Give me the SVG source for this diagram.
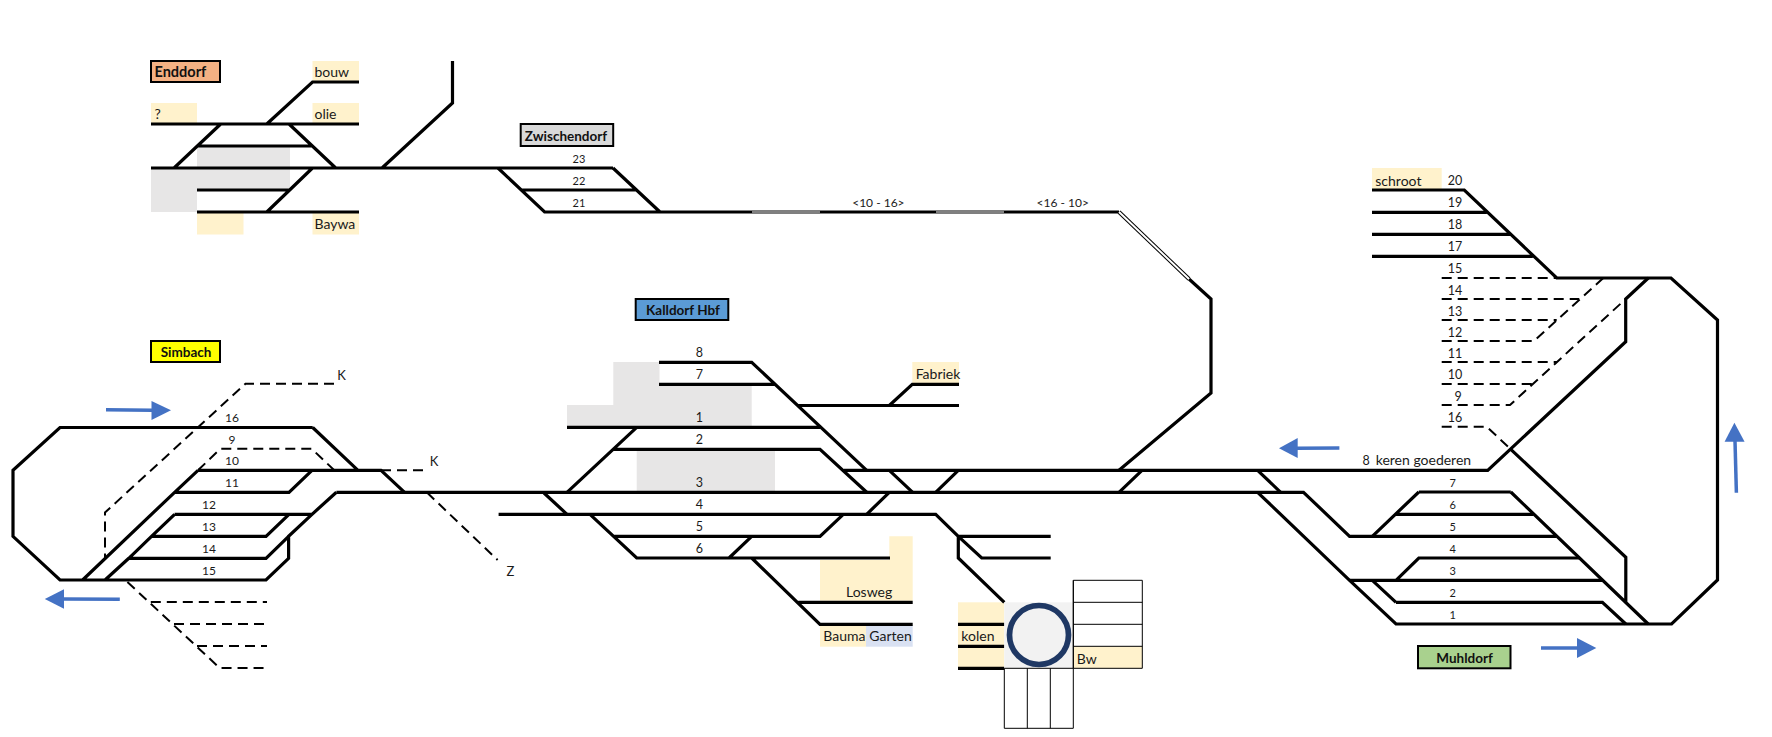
<svg xmlns="http://www.w3.org/2000/svg" width="1772" height="737" viewBox="0 0 1772 737">
<defs>
<style>
text{font-family:Lato,"Liberation Sans",sans-serif;fill:#1a1a1a}
.l{font-size:14px}
.n{font-size:12px;text-anchor:middle}
.k{font-size:13px;text-anchor:middle}
.m{font-size:12.5px;text-anchor:middle}
.s{font-size:11px;text-anchor:middle}
.b{font-size:13.5px;font-weight:700;text-anchor:middle;fill:#111}
.box{stroke:#000;stroke-width:2}
.y{fill:#FFF2CC}
.g{fill:#E7E6E6}
.t{fill:none;stroke:#000;stroke-width:3.2;stroke-linejoin:miter;stroke-linecap:butt}
.d{fill:none;stroke:#000;stroke-width:2;stroke-dasharray:10 6}
.thin{fill:none;stroke:#000;stroke-width:1}
.a{fill:none;stroke:#4472C4;stroke-width:3.5}
.h{fill:#4472C4}
</style>
</defs>
<rect width="1772" height="737" fill="#fff"/>
<g id="backgrounds">
<rect class="y" x="312.5" y="61" width="46.5" height="21"/>
<rect class="y" x="312.5" y="103" width="46.5" height="21"/>
<rect class="y" x="151" y="103" width="46" height="21"/>
<path class="g" d="M197 146H290V190H197V212H151V168H197Z"/>
<rect class="y" x="197" y="212" width="46.5" height="22.5"/>
<rect class="y" x="312.5" y="212" width="46.5" height="22.5"/>
<path class="g" d="M613.3 362H659.5V384.3H751.7V427.3H567V405H613.3Z"/>
<rect class="g" x="636.7" y="450" width="138.3" height="42"/>
<rect class="y" x="912.3" y="362" width="46.7" height="22.3"/>
<path class="y" d="M889.3 536.3H912.7V600.7H820V560H889.3Z"/>
<rect class="y" x="820" y="625" width="46" height="21.7"/>
<rect x="866" y="625" width="46.7" height="21.7" fill="#D9E1F2"/>
<rect class="y" x="958" y="602.3" width="46.3" height="66"/>
<rect class="y" x="1372" y="168" width="69.7" height="21"/>
</g>
<g id="connectors">
<path class="t" d="M151 124H359M151 168H613M197 146H312.5M197 190H289M197 212H359M266.8 124L312.5 82H359M174 168L220.7 124M289 124L335.7 168M266.8 212L312.5 168M382 168L452.5 103V61"/>
<path class="t" d="M498 168L544.6 212H1119M521.4 190H635.7M613 168L660 212"/>
<path class="t" d="M1189 279L1211 299V393L1119 470.3"/>
<path d="M1119 212L1189 279" fill="none" stroke="#000" stroke-width="4"/>
<path d="M1119 212L1189 279" fill="none" stroke="#fff" stroke-width="2"/>
<path d="M752 212H820M936 212H1004" fill="none" stroke="#fff" stroke-width="1.2"/>
<path class="t" d="M312.7 427.5H60L13 470.3V536.3L60 580H266L288.6 558.3V536.3L312 514.3L336.4 492.3M312.7 427.5L358 470.3M198 470.3H381L404.6 492.3M198 470.3L174.6 492.3L82.6 580M174.6 492.3H289L312 470.3M174.6 514.3H312M174.6 514.3L151.5 536.3L128.8 558.3L105 580M151.5 536.3H266L289 514.3M128.8 558.3H266L288.6 536.3"/>
<path class="d" d="M198 470.3L220.4 448.7H311.6L334 470M334 383.7H245.500L105 512.5V558M381 470.3H428.7M427 492.5L497.6 560M127.4 582L219.7 668H267M150.8 602H267M174 624H267M197 646H267"/>
<path class="t" d="M336.4 492.3H1303.5L1349.6 536.3H1556.3M844 470.3H1487.7L1625.7 341.7V299L1648.3 278M498.6 514.3H935.7L958.3 536.3H1050.7M958.3 536.3V558L1004.3 602.3M958.3 536.3L981.7 558H1050.7"/>
<path class="t" d="M659 362.3H751.7L866.7 470.3M659 384.3H775M798.3 405.5H959M889.3 405.5L912.3 384.3H959M567 427.3H820M613.3 449.3H820L866.7 492.3M567 492.3L636.7 427.3M544 493L567 514.3M590 514.3L636.7 558H890M613.3 536.3H820L843.3 514.3M729 558L751.7 536.3M751.7 558L820 624.3H912.7M798.3 602.3H912.7M866.7 514.3L889.3 492.3M889.3 470.3L912.7 492.3M935.7 492.3L958.3 470.3M1119 492.3L1142 470.3M1257.6 470.3L1280.7 492.3"/>
<path class="t" d="M958 624.3H1004.3M958 646.3H1004.3M958 668.3H1004.3"/>
<path class="t" d="M1372 190H1464.3L1556.7 278H1671L1717.5 320V580L1671.6 624H1396L1349.6 580.3L1257.6 492.3M1372 212.3H1486.7M1372 234.3H1510M1372 256.3H1532.7"/>
<path class="t" d="M1510.8 449.3L1625.8 557.3V602.3M1510.8 492L1648.2 624"/>
<path class="t" d="M1418.8 492H1510.8M1372.3 536.3L1418.8 492M1396 514.3H1533.5M1396 580.3L1418.8 558H1579.3M1349.6 580.3H1602.4M1396 602.3H1602.4L1625.8 624M1372.3 580.3L1396 602.3"/>
<path class="d" d="M1441.7 278H1556.7M1441.7 299H1579.3M1441.7 320H1556.7M1441.7 341H1534L1603.3 278M1441.7 362H1556.7M1441.7 384H1534M1441.7 405H1510L1625.7 299M1441.7 426.7H1486.7L1510.8 449.3"/>
</g>
<g id="enddorf"><rect class="box" x="151" y="61" width="69" height="21" fill="#F4B183"/><text class="b" x="154.500" y="76.500" style="text-anchor:start;font-size:14.500px">Enddorf</text>
<text class="l" x="314.500" y="77">bouw</text><text class="l" x="314.500" y="119">olie</text><text class="l" x="154.500" y="119">?</text><text class="l" x="314.500" y="229">Baywa</text></g>
<g id="zwischendorf"><rect class="box" x="520.7" y="124" width="92.500" height="22" fill="#D9D9D9"/><text class="b" x="566" y="140.500">Zwischendorf</text>
<text class="s" x="579" y="163">23</text><text class="s" x="579" y="185">22</text><text class="s" x="579" y="207">21</text>
<text class="n" x="878.400" y="206.500">&lt;10 - 16&gt;</text><text class="n" x="1062.700" y="206.500">&lt;16 - 10&gt;</text></g>
<g id="simbach"><rect class="box" x="151" y="341" width="69" height="21" fill="#FFFF00"/><text class="b" x="186" y="357">Simbach</text>
<g class="nums"><text class="n" x="232" y="422">16</text><text class="n" x="232" y="444">9</text><text class="n" x="232" y="465">10</text><text class="n" x="232" y="487">11</text><text class="n" x="209" y="509">12</text><text class="n" x="209" y="531">13</text><text class="n" x="209" y="553">14</text><text class="n" x="209" y="575">15</text></g>
<text class="k" x="341.600" y="379.500">K</text><text class="k" x="434" y="465.500">K</text><text class="k" x="510.300" y="575.500">Z</text></g>
<g id="kalldorf"><rect class="box" x="635.700" y="299" width="92.600" height="21" fill="#5B9BD5"/><text class="b" x="683" y="315">Kalldorf Hbf</text>
<text class="m" x="699.300" y="357">8</text><text class="m" x="699.300" y="379">7</text><text class="m" x="699.300" y="422">1</text><text class="m" x="699.300" y="444">2</text><text class="m" x="699.300" y="487">3</text><text class="m" x="699.300" y="509">4</text><text class="m" x="699.300" y="531">5</text><text class="m" x="699.300" y="553">6</text>
<text class="l" x="915.700" y="379">Fabriek</text><text class="l" x="846" y="597">Losweg</text><text class="l" x="823.300" y="641">Bauma</text><text class="l" x="869.300" y="641">Garten</text></g>
<g id="depot">
<rect x="1004.300" y="602.300" width="69" height="66" fill="#F2F2F2"/>
<circle cx="1039" cy="635" r="29.500" fill="#F2F2F2" stroke="#1F3864" stroke-width="5.700"/>
<rect class="y" x="1073.300" y="646.300" width="69" height="22"/>
<path class="thin" d="M1073.300 580.300H1142.300V668.300H1073.300ZM1073.300 580.300V668.300M1073.300 602.300H1142.300M1073.300 624.300H1142.300M1073.300 646.300H1142.300M1004.300 668.300V728.300H1073.300V668.300M1004.300 668.300H1073.300M1027.300 668.300V728.300M1050.300 668.300V728.300"/>
<text class="l" x="961.300" y="641">kolen</text><text class="l" x="1076.700" y="663.500">Bw</text></g>
<g id="muhldorf"><rect class="box" x="1418" y="646" width="92.500" height="22.300" fill="#A9D18E"/><text class="b" x="1464.600" y="663">Muhldorf</text>
<text class="l" x="1375.300" y="185.500">schroot</text>
<text class="m" x="1455" y="185">20</text><text class="m" x="1455" y="207">19</text><text class="m" x="1455" y="229">18</text><text class="m" x="1455" y="251">17</text><text class="m" x="1455" y="273">15</text><text class="m" x="1455" y="294.500">14</text><text class="m" x="1455" y="315.500">13</text><text class="m" x="1455" y="336.500">12</text><text class="m" x="1455" y="357.500">11</text><text class="m" x="1455" y="379">10</text><text class="m" x="1458" y="400.500">9</text><text class="m" x="1455" y="422">16</text>
<text class="m" x="1366" y="465">8</text><text class="l" x="1375.700" y="465">keren goederen</text>
<text class="s" x="1452.800" y="487">7</text><text class="s" x="1452.800" y="509">6</text><text class="s" x="1452.800" y="531">5</text><text class="s" x="1452.800" y="553">4</text><text class="s" x="1452.800" y="575">3</text><text class="s" x="1452.800" y="597">2</text><text class="s" x="1452.800" y="619">1</text></g>
<g id="arrows">
<path class="a" d="M106 409.700L152 410.300"/><path class="h" d="M151.500 401L171 410.300L151.500 420Z"/>
<path class="a" d="M119.800 599.300L63 599"/><path class="h" d="M64 589.300L44.800 599L64 608.700Z"/>
<path class="a" d="M1339.400 448L1297 448.300"/><path class="h" d="M1297.700 438L1279 448.300L1297.700 458Z"/>
<path class="a" d="M1541 648L1578 648"/><path class="h" d="M1577 638L1596.300 648L1577 658Z"/>
<path class="a" d="M1736.400 492.700L1735 441"/><path class="h" d="M1724.600 441.700L1734.400 422.700L1744.600 441.700Z"/>
</g>
</svg>
